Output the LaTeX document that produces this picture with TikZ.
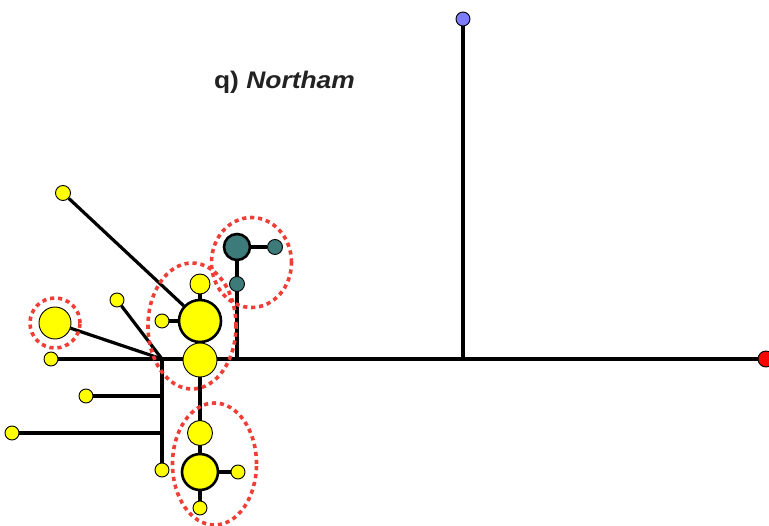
\documentclass[tikz,border=0pt]{standalone}
\usepackage{fontspec}
\newfontfamily\titlefont{Liberation Sans}
\usetikzlibrary{backgrounds}
\definecolor{hapyellow}{RGB}{255,255,0}
\definecolor{hapteal}{RGB}{61,122,122}
\definecolor{hapblue}{RGB}{125,125,250}
\definecolor{hapred}{RGB}{255,0,0}
\definecolor{ringred}{RGB}{238,62,54}
\definecolor{titlegray}{RGB}{34,34,34}
\begin{document}
\begin{tikzpicture}[x=1pt,y=-1pt,
  hap/.style={circle,draw=black,line width=0.9pt,inner sep=0pt,minimum size=#1,fill=hapyellow},
  bighap/.style={hap=#1,line width=2.6pt},
  link/.style={line width=3.2pt,draw=black},
  ring/.style={draw=ringred,line width=3.6pt,dash pattern=on 4.2pt off 3.8pt},
]
\useasboundingbox (0,0) rectangle (769,526);

% haplotype nodes
\node[hap=14pt,fill=hapblue] (blue) at (463,19) {};
\node[hap=16pt,fill=hapred] (red) at (766,359) {};
\node[hap=14pt] (y51) at (51,359) {};
\node[hap=15pt] (ytop) at (63,193) {};
\node[hap=32pt] (yleft) at (55,323) {};
\node[hap=14pt] (y117) at (117,300) {};
\node[hap=14pt] (y86) at (86,396) {};
\node[hap=14pt] (y12) at (12,433) {};
\node[hap=14pt] (y162) at (162,470) {};
\node[bighap=42pt] (yA) at (200,321) {};
\node[hap=20pt] (yAt) at (200,284) {};
\node[hap=14pt] (yAl) at (162,321) {};
\node[hap=34pt] (yB) at (200,360) {};
\node[hap=25pt] (yC) at (200,433) {};
\node[bighap=36pt] (yD) at (200,472) {};
\node[hap=14pt] (yDr) at (238,472) {};
\node[hap=14pt] (yDb) at (200,508) {};
\node[bighap=26pt,fill=hapteal] (tA) at (237,247) {};
\node[hap=15pt,fill=hapteal] (tAr) at (275,247) {};
\node[hap=15pt,fill=hapteal] (tAb) at (237,284) {};

% junctions
\coordinate (jL) at (162,359);
\coordinate (jL1) at (162,396);
\coordinate (jL2) at (162,433);
\coordinate (jT) at (237,359);
\coordinate (jB) at (463,359);

% connectors
\begin{scope}[on background layer]
  \draw[link] (y51) -- (red);
  \draw[link] (blue) -- (jB);
  \draw[link] (tA) -- (jT);
  \draw[link] (tA) -- (tAr);
  \draw[link] ([yshift=-1.6pt]jL) -- (y162);
  \draw[link] (y86) -- (jL1);
  \draw[link] (y12) -- (jL2);
  \draw[link] (yleft) -- (jL);
  \draw[link] (y117) -- (jL);
  \draw[link] (ytop) -- (yA);
  \draw[link] (yA) -- (yAt);
  \draw[link] (yA) -- (yAl);
  \draw[link] (yA) -- (yB);
  \draw[link] (yB) -- (yDb);
  \draw[link] (yD) -- (yDr);
\end{scope}

% dotted rings
\draw[ring] (55,323) circle[radius=25pt];
\draw[ring] (251.5,262.5) ellipse[x radius=40pt,y radius=45pt];
\draw[ring] (192,326) ellipse[x radius=44pt,y radius=63pt];
\draw[ring] (214.5,464) ellipse[x radius=42pt,y radius=61pt];

% title
\node[font=\titlefont\fontsize{24}{28}\selectfont\bfseries,text=titlegray,anchor=base,inner sep=0pt] (title) at (284.5,89) {\scalebox{1.1}[1]{q) \itshape Northam}};
\end{tikzpicture}
\end{document}
